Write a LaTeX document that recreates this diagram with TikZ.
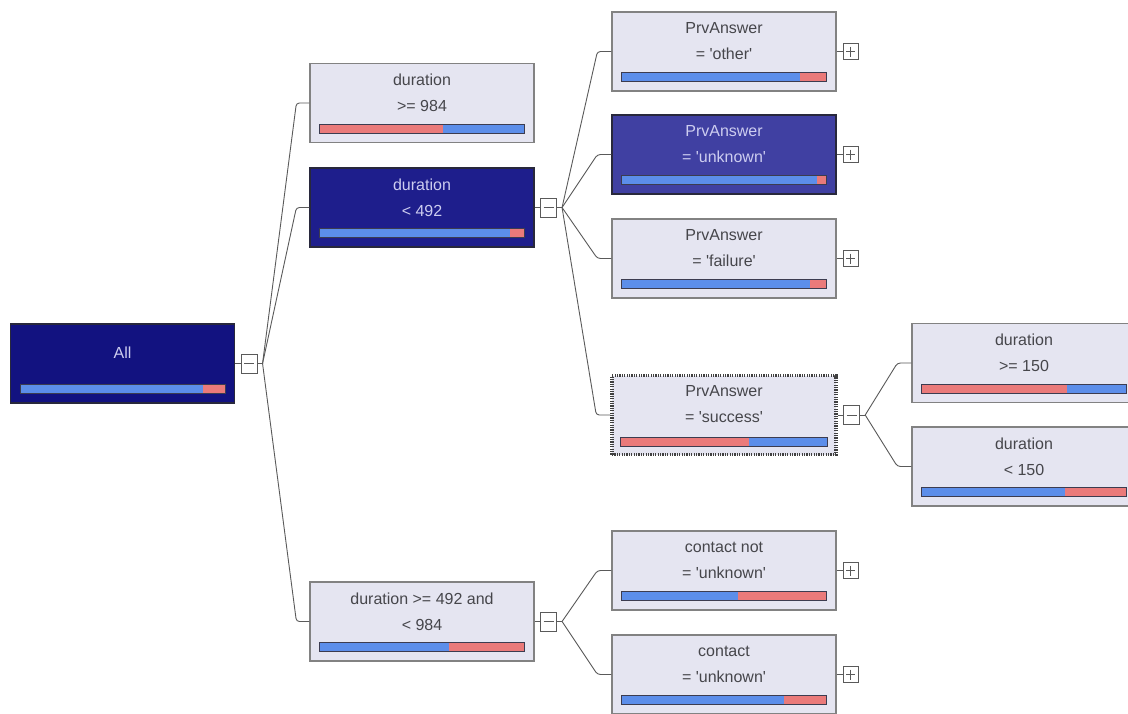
\documentclass[tikz,border=0pt]{standalone}
\usepackage{fontspec}
\setmainfont{Liberation Sans}[Ligatures=TeXOff]
\usetikzlibrary{calc}

\definecolor{boxfill}{RGB}{229,229,241}
\definecolor{boxline}{RGB}{130,130,130}
\definecolor{navyfill}{RGB}{18,18,128}
\definecolor{deepfill}{RGB}{30,30,140}
\definecolor{midfill}{RGB}{64,64,162}
\definecolor{darkline}{RGB}{40,40,60}
\definecolor{lighttextcol}{RGB}{70,70,75}
\definecolor{darktextcol}{RGB}{205,205,240}
\definecolor{barblue}{RGB}{92,142,234}
\definecolor{barred}{RGB}{234,122,122}
\definecolor{barline}{RGB}{60,60,80}
\definecolor{linkcol}{RGB}{90,90,90}

\tikzset{
  treebox/.style={rectangle, minimum width=224pt, minimum height=79pt, inner sep=0pt, line width=1.2pt},
  lightbox/.style={treebox, draw=boxline, fill=boxfill},
  navybox/.style={treebox, draw=darkline, fill=navyfill},
  deepbox/.style={treebox, draw=darkline, fill=deepfill},
  midbox/.style={treebox, draw=darkline, fill=midfill},
  focusbox/.style={treebox, fill=boxfill, preaction={draw=gray!45, line width=3.5pt},
    draw=black!75, line width=3.5pt, dash pattern=on 1.2pt off 1.2pt},
  lighttext/.style={font=\fontsize{16}{26}\selectfont, align=center, inner sep=0pt, text=lighttextcol},
  darktext/.style={lighttext, text=darktextcol},
  expander/.style={rectangle, draw=linkcol, fill=white, line width=0.9pt, inner sep=0pt},
  minusbox/.style={expander, minimum width=16pt, minimum height=19pt,
    path picture={\draw[linkcol, line width=0.9pt]
      ([xshift=3pt]path picture bounding box.west) -- ([xshift=-3pt]path picture bounding box.east);}},
  plusbox/.style={expander, minimum width=15pt, minimum height=16pt,
    path picture={\draw[linkcol, line width=0.9pt]
      ([xshift=3pt]path picture bounding box.west) -- ([xshift=-3pt]path picture bounding box.east)
      ([yshift=-3pt]path picture bounding box.north) -- ([yshift=3pt]path picture bounding box.south);}},
  link/.style={draw=linkcol, line width=0.9pt, rounded corners=3pt}
}

\newcommand{\splitbar}[4]{%
  \coordinate (#1-l) at ([shift={(10pt,10pt)}]#1.south west);
  \coordinate (#1-r) at ([shift={(-10pt,19pt)}]#1.south east);
  \coordinate (#1-m) at ($(#1-l)!#2!(#1-r)$);
  \fill[#3] (#1-l) rectangle (#1-m |- #1-r);
  \fill[#4] (#1-m |- #1-l) rectangle (#1-r);
  \draw[barline, line width=0.8pt] (#1-l) rectangle (#1-r);
}

\begin{document}
\begin{tikzpicture}[x=1pt,y=-1pt]
\clip (0,0) rectangle (1128,713);
\fill[white] (0,0) rectangle (1128,713);

\node[navybox] (all) at (122.5,363.5) {};
\node[darktext] (all-t) at ([yshift=-29pt]all.north) {All};
\splitbar{all}{0.89}{barblue}{barred}

\node[lightbox] (dur984) at (422,103) {};
\node[lighttext] (dur984-t) at ([yshift=-30pt]dur984.north) {duration\\>= 984};
\splitbar{dur984}{0.60}{barred}{barblue}

\node[deepbox] (dur492) at (422,207.5) {};
\node[darktext] (dur492-t) at ([yshift=-30pt]dur492.north) {duration\\< 492};
\splitbar{dur492}{0.93}{barblue}{barred}

\node[lightbox] (durmid) at (422,621.5) {};
\node[lighttext] (durmid-t) at ([yshift=-30pt]durmid.north) {duration >= 492 and\\< 984};
\splitbar{durmid}{0.63}{barblue}{barred}

\node[lightbox] (other) at (724,51.5) {};
\node[lighttext] (other-t) at ([yshift=-30pt]other.north) {PrvAnswer\\= 'other'};
\splitbar{other}{0.87}{barblue}{barred}

\node[midbox] (unknown) at (724,154.5) {};
\node[darktext] (unknown-t) at ([yshift=-30pt]unknown.north) {PrvAnswer\\= 'unknown'};
\splitbar{unknown}{0.955}{barblue}{barred}

\node[lightbox] (failure) at (724,258.5) {};
\node[lighttext] (failure-t) at ([yshift=-30pt]failure.north) {PrvAnswer\\= 'failure'};
\splitbar{failure}{0.92}{barblue}{barred}

\node[focusbox] (success) at (724,415) {};
\node[lighttext] (success-t) at ([yshift=-30pt]success.north) {PrvAnswer\\= 'success'};
\splitbar{success}{0.62}{barred}{barblue}

\node[lightbox] (dur150ge) at (1024,363) {};
\node[lighttext] (dur150ge-t) at ([yshift=-30pt]dur150ge.north) {duration\\>= 150};
\splitbar{dur150ge}{0.71}{barred}{barblue}

\node[lightbox] (dur150lt) at (1024,466.5) {};
\node[lighttext] (dur150lt-t) at ([yshift=-30pt]dur150lt.north) {duration\\< 150};
\splitbar{dur150lt}{0.70}{barblue}{barred}

\node[lightbox] (contnot) at (724,570.5) {};
\node[lighttext] (contnot-t) at ([yshift=-30pt]contnot.north) {contact not\\= 'unknown'};
\splitbar{contnot}{0.57}{barblue}{barred}

\node[lightbox] (contunk) at (724,674.5) {};
\node[lighttext] (contunk-t) at ([yshift=-30pt]contunk.north) {contact\\= 'unknown'};
\splitbar{contunk}{0.79}{barblue}{barred}

\node[minusbox] (all-x) at ([xshift=14pt]all.east) {};
\node[minusbox] (dur492-x) at ([xshift=14pt]dur492.east) {};
\node[minusbox] (durmid-x) at ([xshift=14pt]durmid.east) {};
\node[minusbox] (success-x) at ([xshift=14pt]success.east) {};
\node[plusbox] (other-x) at ([xshift=14pt]other.east) {};
\node[plusbox] (unknown-x) at ([xshift=14pt]unknown.east) {};
\node[plusbox] (failure-x) at ([xshift=14pt]failure.east) {};
\node[plusbox] (contnot-x) at ([xshift=14pt]contnot.east) {};
\node[plusbox] (contunk-x) at ([xshift=14pt]contunk.east) {};

\coordinate (all-j) at ([xshift=5pt]all-x.east);
\coordinate (dur492-j) at ([xshift=5pt]dur492-x.east);
\coordinate (durmid-j) at ([xshift=5pt]durmid-x.east);
\coordinate (success-j) at ([xshift=5pt]success-x.east);

\draw[link] (all) -- (all-x) (all-x) -- (all-j);
\draw[link] (dur492) -- (dur492-x) (dur492-x) -- (dur492-j);
\draw[link] (durmid) -- (durmid-x) (durmid-x) -- (durmid-j);
\draw[link] (success) -- (success-x) (success-x) -- (success-j);
\draw[link] (other) -- (other-x);
\draw[link] (unknown) -- (unknown-x);
\draw[link] (failure) -- (failure-x);
\draw[link] (contnot) -- (contnot-x);
\draw[link] (contunk) -- (contunk-x);

\draw[link] (all-j) -- ([xshift=-13pt]dur984.west) -- (dur984.west);
\draw[link] (all-j) -- ([xshift=-13pt]dur492.west) -- (dur492.west);
\draw[link] (all-j) -- ([xshift=-13pt]durmid.west) -- (durmid.west);
\draw[link] (dur492-j) -- ([xshift=-14pt]other.west) -- (other.west);
\draw[link] (dur492-j) -- ([xshift=-14pt]unknown.west) -- (unknown.west);
\draw[link] (dur492-j) -- ([xshift=-14pt]failure.west) -- (failure.west);
\draw[link] (dur492-j) -- ([xshift=-14pt]success.west) -- (success.west);
\draw[link] (success-j) -- ([xshift=-14pt]dur150ge.west) -- (dur150ge.west);
\draw[link] (success-j) -- ([xshift=-14pt]dur150lt.west) -- (dur150lt.west);
\draw[link] (durmid-j) -- ([xshift=-14pt]contnot.west) -- (contnot.west);
\draw[link] (durmid-j) -- ([xshift=-14pt]contunk.west) -- (contunk.west);
\end{tikzpicture}
\end{document}
